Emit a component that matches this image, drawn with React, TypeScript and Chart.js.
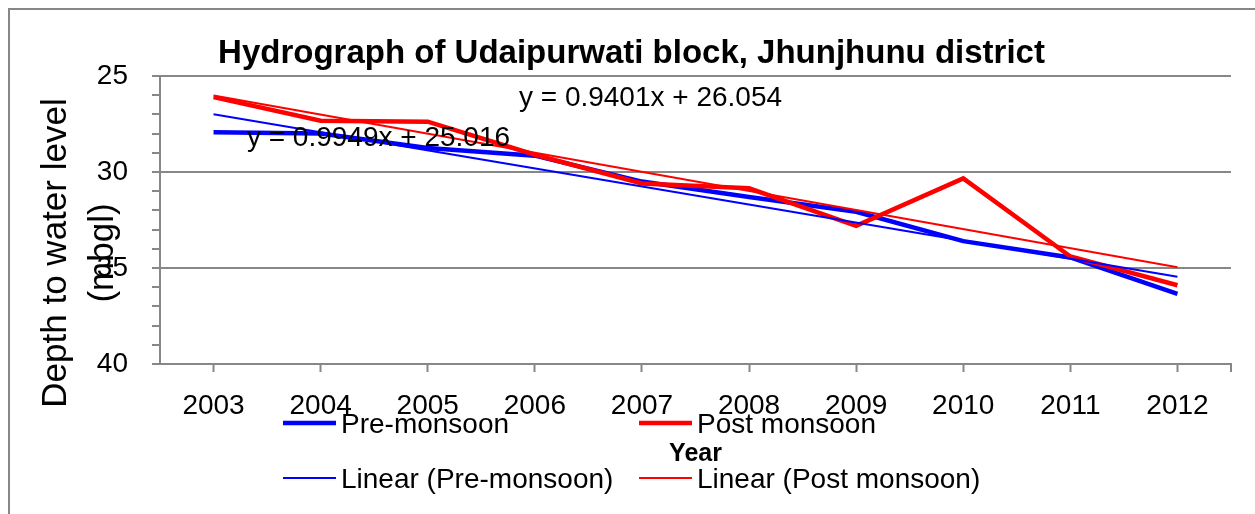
import React, { useEffect, useRef } from "react";
import { Chart, registerables } from "chart.js";

Chart.register(...registerables);

// ---- data ----
const years = ["2003", "2004", "2005", "2006", "2007", "2008", "2009", "2010", "2011", "2012"];
const preMonsoon = [27.93, 28.0, 28.75, 29.15, 30.5, 31.3, 32.07, 33.6, 34.45, 36.35];
const postMonsoon = [26.1, 27.33, 27.38, 29.1, 30.6, 30.85, 32.8, 30.33, 34.4, 35.9];
// trendline end values (first year, last year) as drawn by Excel
const preTrendEnds = [26.99, 35.45];
const postTrendEnds = [26.01, 34.96];
const seriesLabels = ["Pre-monsoon", "Post monsoon", "Linear (Pre-monsoon)", "Linear (Post monsoon)"];
const equationTexts = ["y = 0.9401x + 26.054", "y = 0.9949x + 25.016"];
const equationAnchors = [
  { index: 4.08, value: 26.15 },
  { index: 1.54, value: 28.23 },
];
const yMin = 25;
const yMax = 40;
const chartTitle = "Hydrograph of Udaipurwati block, Jhunjhunu district";
const yTitleLines = ["Depth to water level", "(mbgl)"];
const xTitle = "Year";

const FONT = "'Liberation Sans', Arial, sans-serif";
const GRAY = "#878787";
const W = 1247;
const H = 506;

function trendData(ends: number[]) {
  return years.map((_, i) => (i === 0 ? ends[0] : i === years.length - 1 ? ends[1] : null));
}

const decor = {
  id: "decor",
  afterDraw(chart: any) {
    const ctx = chart.ctx;
    const area = chart.chartArea;
    const xs = chart.scales.x;
    const ys = chart.scales.y;
    ctx.save();
    // outer border (top + left)
    ctx.fillStyle = GRAY;
    ctx.fillRect(0, 0, W, 2);
    ctx.fillRect(0, 0, 2, H);
    // right edge tick on x axis
    ctx.fillRect(area.right - 1, area.bottom, 2, 8);

    // title
    ctx.fillStyle = "#000";
    ctx.textAlign = "center";
    ctx.textBaseline = "middle";
    ctx.font = `bold 33px ${FONT}`;
    ctx.fillText(chartTitle, W / 2, 46);

    // y axis title (two rotated lines)
    ctx.font = `35px ${FONT}`;
    const yc = 245;
    [48, 95].forEach((xc, i) => {
      ctx.save();
      ctx.translate(xc, yc);
      ctx.rotate(-Math.PI / 2);
      ctx.fillText(yTitleLines[i], 0, 0);
      ctx.restore();
    });

    // x axis title
    ctx.font = `bold 25px ${FONT}`;
    ctx.fillText(xTitle, (area.left + area.right) / 2, 446);

    // equations
    ctx.font = `28px ${FONT}`;
    equationAnchors.forEach((a, i) => {
      const x = xs.getPixelForValue(a.index);
      const y = ys.getPixelForValue(a.value);
      ctx.fillText(equationTexts[i], x, y);
    });

    // legend (2 x 2)
    const cols = [275, 631];
    const rows = [415, 470];
    ctx.textAlign = "left";
    ctx.font = `28px ${FONT}`;
    chart.data.datasets.forEach((ds: any, i: number) => {
      const cx = cols[i % 2];
      const cy = rows[Math.floor(i / 2)];
      ctx.strokeStyle = ds.borderColor;
      ctx.lineWidth = ds.borderWidth;
      ctx.beginPath();
      ctx.moveTo(cx, cy);
      ctx.lineTo(cx + 53, cy);
      ctx.stroke();
      ctx.fillStyle = "#000";
      ctx.fillText(ds.label, cx + 58, cy + 2);
    });
    ctx.restore();
  },
};

export default function App() {
  const ref = useRef<HTMLCanvasElement>(null);
  useEffect(() => {
    if (!ref.current) return;
    const chart = new Chart(ref.current, {
      type: "line",
      data: {
        labels: years,
        datasets: [
          {
            label: seriesLabels[0],
            data: preMonsoon,
            borderColor: "#0000ff",
            borderWidth: 4.5,
            pointRadius: 0,
            tension: 0,
            order: 3,
          },
          {
            label: seriesLabels[1],
            data: postMonsoon,
            borderColor: "#ff0000",
            borderWidth: 4.5,
            pointRadius: 0,
            tension: 0,
            order: 2,
          },
          {
            label: seriesLabels[2],
            data: trendData(preTrendEnds),
            borderColor: "#0000ff",
            borderWidth: 2,
            pointRadius: 0,
            spanGaps: true,
            order: 1,
          },
          {
            label: seriesLabels[3],
            data: trendData(postTrendEnds),
            borderColor: "#ff0000",
            borderWidth: 2,
            pointRadius: 0,
            spanGaps: true,
            order: 0,
          },
        ],
      },
      options: {
        responsive: false,
        animation: false,
        devicePixelRatio: 1,
        layout: { padding: { top: 68, right: 24, left: 0, bottom: 0 } },
        plugins: {
          legend: { display: false },
          title: { display: false },
          tooltip: { enabled: false },
        },
        scales: {
          x: {
            type: "category",
            offset: true,
            grid: {
              offset: false,
              drawOnChartArea: false,
              drawTicks: true,
              tickLength: 8,
              tickColor: GRAY,
              tickWidth: 2,
            },
            border: { color: GRAY, width: 2 },
            ticks: {
              color: "#000",
              font: { family: FONT, size: 28 },
              padding: 17,
              maxRotation: 0,
              autoSkip: false,
            },
            afterFit: (s: any) => {
              s.height = 150;
            },
          },
          y: {
            reverse: true,
            min: yMin,
            max: yMax,
            grid: {
              color: (c: any) => (c.tick && c.tick.value % 5 === 0 ? GRAY : "rgba(0,0,0,0)"),
              lineWidth: 2,
              tickColor: GRAY,
              tickWidth: 2,
              tickLength: 8,
            },
            border: { color: GRAY, width: 2 },
            ticks: {
              stepSize: 1,
              autoSkip: false,
              color: "#000",
              font: { family: FONT, size: 28 },
              padding: 24,
              callback: (v: any) => (Number(v) % 5 === 0 ? String(v) : ""),
            },
            afterFit: (s: any) => {
              s.width = 152;
            },
          },
        },
      },
      plugins: [decor],
    });
    return () => chart.destroy();
  }, []);
  return (
    <div style={{ position: "fixed", left: 8, top: 8, width: W, height: H, background: "#fff" }}>
      <canvas ref={ref} width={W} height={H} style={{ display: "block", width: W, height: H }} />
    </div>
  );
}
